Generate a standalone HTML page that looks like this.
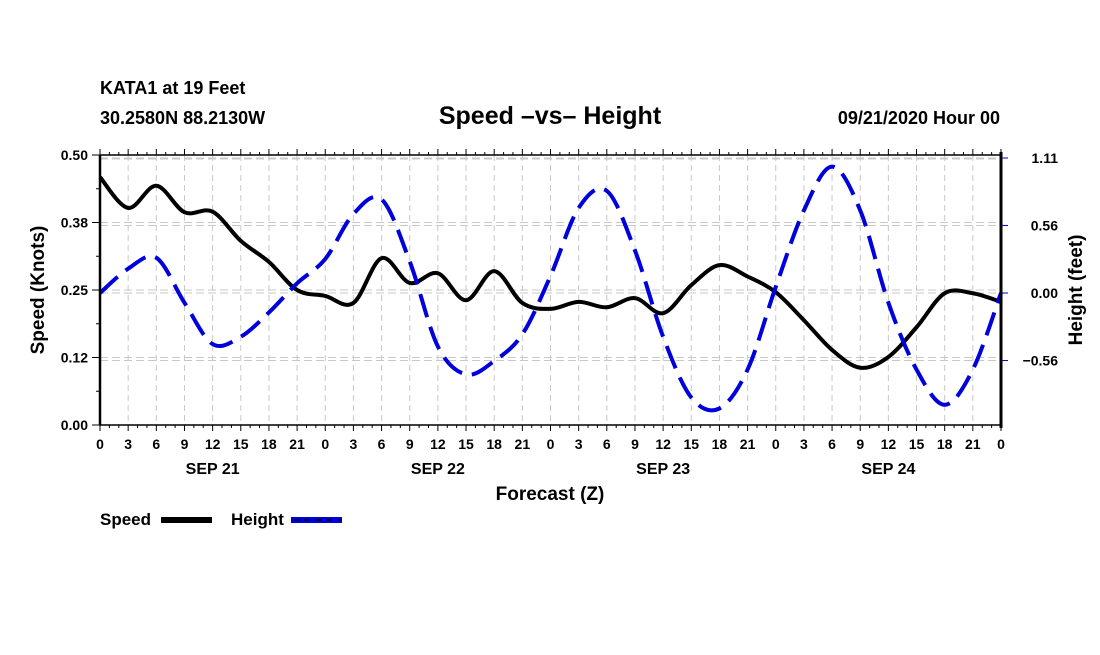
<!DOCTYPE html>
<html><head><meta charset="utf-8"><style>
body{margin:0;background:#fff;}
svg text{font-family:"Liberation Sans",sans-serif;font-weight:bold;fill:#000;}
</style></head><body>
<svg id="chart" width="1100" height="650" viewBox="0 0 1100 650" xmlns="http://www.w3.org/2000/svg">
<text x="100" y="94" font-size="18">KATA1 at 19 Feet</text>
<text x="100" y="124" font-size="18">30.2580N 88.2130W</text>
<text x="550" y="124" font-size="25" text-anchor="middle">Speed –vs– Height</text>
<text x="1000" y="124" font-size="18" text-anchor="end">09/21/2020 Hour 00</text>
<g id="grid"></g>
<g id="series"></g>
<g id="axes"></g>
<text transform="translate(44,290) rotate(-90)" font-size="19" text-anchor="middle">Speed (Knots)</text>
<text transform="translate(1082,290) rotate(-90)" font-size="19" text-anchor="middle">Height (feet)</text>
<text x="550" y="500" font-size="19" text-anchor="middle">Forecast (Z)</text>
<g>
<text x="100" y="525" font-size="17">Speed</text>
<rect x="161" y="517" width="51" height="6" fill="#000"/>
<text x="231" y="525" font-size="17">Height</text>
<rect x="291" y="517" width="51" height="6" fill="#0000dd"/>
<line x1="293" y1="520" x2="342" y2="520" stroke="#001" stroke-width="1.5" stroke-dasharray="6,5"/>
</g>
</svg>
<script>
const hours=[0,3,6,9,12,15,18,21,24,27,30,33,36,39,42,45,48,51,54,57,60,63,66,69,72,75,78,81,84,87,90,93,96];
const speed=[0.459,0.402,0.443,0.394,0.395,0.341,0.302,0.25,0.239,0.226,0.309,0.263,0.281,0.231,0.285,0.226,0.215,0.228,0.218,0.235,0.207,0.259,0.296,0.275,0.246,0.194,0.139,0.106,0.126,0.181,0.244,0.244,0.228];
const height=[0,0.2,0.29,-0.08,-0.42,-0.36,-0.16,0.08,0.28,0.65,0.77,0.26,-0.44,-0.67,-0.56,-0.34,0.14,0.70,0.84,0.35,-0.36,-0.86,-0.95,-0.63,0.05,0.68,1.04,0.68,-0.08,-0.63,-0.92,-0.63,0];
const hourLabels=["0","3","6","9","12","15","18","21"];
const dayLabels=["SEP 21","SEP 22","SEP 23","SEP 24"];
const leftTicks=[0,0.125,0.25,0.375,0.5];
const leftTickLabels=["0.00","0.12","0.25","0.38","0.50"];
const rightTicks=[-0.556,0,0.556,1.111];
const rightTickLabels=["−0.56","0.00","0.56","1.11"];
const X0=100,X1=1001,Y0=155,Y1=425;
const xs=h=>X0+(h/96)*(X1-X0);
const ySp=v=>Y1-v*(Y1-Y0)/0.5;
const yHt=v=>293-v*121.5;
const NS="http://www.w3.org/2000/svg";
function mk(tag,attrs,parent){const e=document.createElementNS(NS,tag);for(const k in attrs)e.setAttribute(k,attrs[k]);parent.appendChild(e);return e;}
const grid=document.getElementById('grid'),axes=document.getElementById('axes'),series=document.getElementById('series');
for(let h=3;h<96;h+=3){const l=mk('line',{x1:xs(h),x2:xs(h),y1:Y0,y2:Y1,stroke:'#c8c8c8','stroke-dasharray':'6,4'},grid);
}
leftTicks.forEach((v,i)=>{if(i===0)return;const y=i===4?159:ySp(v);const l=mk('line',{x1:X0,x2:X1,y1:y,y2:y,stroke:'#c8c8c8','stroke-dasharray':'8,4'},grid);
});
rightTicks.forEach(v=>{const y=yHt(v);const l=mk('line',{x1:X0,x2:X1,y1:y,y2:y,stroke:'#c8c8c8','stroke-dasharray':'8,4'},grid);
});
function smooth(pts){let d=`M${pts[0][0]},${pts[0][1]}`;for(let i=0;i<pts.length-1;i++){const p0=pts[i-1]||pts[i],p1=pts[i],p2=pts[i+1],p3=pts[i+2]||p2;
d+=` C${p1[0]+(p2[0]-p0[0])/6},${p1[1]+(p2[1]-p0[1])/6} ${p2[0]-(p3[0]-p1[0])/6},${p2[1]-(p3[1]-p1[1])/6} ${p2[0]},${p2[1]}`;}return d;}
const sp=mk('path',{d:smooth(hours.map((h,i)=>[xs(h),ySp(speed[i])])),fill:'none',stroke:'#000','stroke-width':4,'stroke-linejoin':'round'},series);

const ht=mk('path',{d:smooth(hours.map((h,i)=>[xs(h),yHt(height[i])])),fill:'none',stroke:'#0000dd','stroke-width':4,'stroke-dasharray':'24,10'},series);

mk('line',{x1:X0,x2:X1,y1:Y0,y2:Y0,stroke:'#000','stroke-width':1.5},axes);
mk('line',{x1:X0,x2:X1,y1:Y1,y2:Y1,stroke:'#000','stroke-width':1.5},axes);
mk('line',{x1:X0,x2:X0,y1:Y0,y2:Y1,stroke:'#000','stroke-width':2.5},axes);
mk('line',{x1:X1,x2:X1,y1:Y0-3,y2:Y1+3,stroke:'#000','stroke-width':3},axes);
for(let h=0;h<=96;h++){const x=xs(h);const L=h%3===0?6:3;
mk('line',{x1:x,x2:x,y1:Y1,y2:Y1+L,stroke:'#000'},axes);mk('line',{x1:x,x2:x,y1:Y0,y2:Y0-L,stroke:'#000'},axes);
if(h%3===0){const t=mk('text',{x:x,y:449,'font-size':14,'text-anchor':'middle'},axes);t.textContent=hourLabels[(h/3)%8];
}}
dayLabels.forEach((s,i)=>{const t=mk('text',{x:xs(12+24*i),y:474,'font-size':16,'text-anchor':'middle'},axes);t.textContent=s;
});
for(let v=0;v<=0.5001;v+=0.0625){const y=ySp(v);mk('line',{x1:X0-4,x2:X0,y1:y,y2:y,stroke:'#000'},axes);}
leftTicks.forEach((v,i)=>{const y=ySp(v);mk('line',{x1:X0-8,x2:X0,y1:y,y2:y,stroke:'#000'},axes);
const t=mk('text',{x:X0-12,y:y+5,'font-size':14,'text-anchor':'end'},axes);t.textContent=leftTickLabels[i];
});
rightTicks.forEach((v,i)=>{const y=yHt(v);mk('line',{x1:X1,x2:X1+7,y1:y,y2:y,stroke:'#0000aa'},axes);
const t=mk('text',{x:1058,y:y+5,'font-size':14,'text-anchor':'end'},axes);t.textContent=rightTickLabels[i];
});
</script>
</body></html>
